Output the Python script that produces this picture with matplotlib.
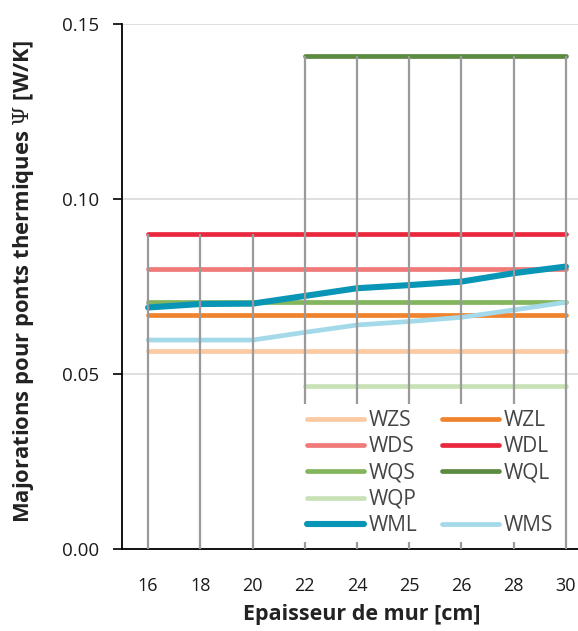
import numpy as np
import matplotlib
matplotlib.use("Agg")
import matplotlib.pyplot as plt
from matplotlib.lines import Line2D

plt.rcParams['font.family'] = ['Open Sans', 'DejaVu Sans']
plt.rcParams['mathtext.fontset'] = 'dejavuserif'

categories = ["16", "18", "20", "22", "24", "25", "26", "28", "30"]
nan = np.nan
WZS = [0.0565, 0.0565, 0.0565, 0.0565, 0.0565, 0.0565, 0.0565, 0.0565, 0.0565]
WZL = [0.067, 0.067, 0.067, 0.067, 0.067, 0.067, 0.067, 0.067, 0.067]
WDS = [0.080, 0.080, 0.080, 0.080, 0.080, 0.080, 0.080, 0.080, 0.080]
WDL = [0.090, 0.090, 0.090, 0.090, 0.090, 0.090, 0.090, 0.090, 0.090]
WQS = [0.0707, 0.0707, 0.0707, 0.0707, 0.0707, 0.0707, 0.0707, 0.0707, 0.0707]
WQL = [nan, nan, nan, 0.141, 0.141, 0.141, 0.141, 0.141, 0.141]
WQP = [nan, nan, nan, 0.0467, 0.0467, 0.0467, 0.0467, 0.0467, 0.0467]
WML = [0.0690, 0.0700, 0.0701, 0.0723, 0.0745, 0.0754, 0.0764, 0.0788, 0.0807]
WMS = [0.0597, 0.0597, 0.0597, 0.0619, 0.0640, 0.0650, 0.0662, 0.0683, 0.0705]

series_names = ["WZS", "WZL", "WDS", "WDL", "WQS", "WQL", "WQP", "WML", "WMS"]
series_vals = [WZS, WZL, WDS, WDL, WQS, WQL, WQP, WML, WMS]
colors = {"WZS": "#FBC9A2", "WZL": "#F0832C", "WDS": "#F07A78", "WDL": "#E9283F",
          "WQS": "#83B55C", "WQL": "#5B8A40", "WQP": "#C9E1B6",
          "WML": "#0895B6", "WMS": "#A3D9E9"}
widths = {n: 3.4 for n in series_names}
widths["WML"] = 4.4

fig = plt.figure(figsize=(5.78, 6.31), dpi=100)
ax = fig.add_axes([122/578, 82/631, 470/578, 525/631])
x = np.arange(len(categories))

handles = {}
for name, vals in zip(series_names, series_vals):
    h, = ax.plot(x, vals, color=colors[name], lw=widths[name],
                 solid_capstyle='round', zorder=3, label=name)
    handles[name] = h

# drop lines
arr = np.array(series_vals, dtype=float)
tops = np.nanmax(arr, axis=0)
ax.vlines(x, 0, tops, colors="#9A9A9A", lw=1.6, zorder=4)

ax.set_xlim(-0.5, 8.5)
ax.set_ylim(0, 0.15)
ax.set_yticks([0.0, 0.05, 0.10, 0.15])
ax.set_yticklabels(["0.00", "0.05", "0.10", "0.15"])
ax.set_xticks(x)
ax.set_xticklabels(categories)
ax.yaxis.grid(True, color="#D9D9D9", lw=1.2, zorder=0)
ax.set_axisbelow(True)
for s in ["top", "right"]:
    ax.spines[s].set_visible(False)
ax.spines["left"].set_color("black")
ax.spines["bottom"].set_color("black")
ax.spines["left"].set_linewidth(1.3)
ax.spines["bottom"].set_linewidth(1.3)
ax.tick_params(axis='y', length=6.5, width=1.2, labelsize=13.5, pad=10, colors='black')
ax.tick_params(axis='x', length=0, labelsize=13, pad=20)
for t in ax.get_yticklabels() + ax.get_xticklabels():
    t.set_color('#1A1A1A')

ax.set_xlabel("Epaisseur de mur [cm]", fontsize=15.5, fontweight='bold', color='#222222')
ax.set_ylabel(r"Majorations pour ponts thermiques $\Psi$ [W/K]", fontsize=15.8,
              fontweight='bold', color='#222222')
ax.xaxis.set_label_coords(0.51, -0.104)
ax.yaxis.set_label_coords(-0.182, 0.51)

blank = Line2D([], [], color='none')
order = [handles["WZS"], handles["WDS"], handles["WQS"], handles["WQP"], handles["WML"],
         handles["WZL"], handles["WDL"], handles["WQL"], blank, handles["WMS"]]
labels = ["WZS", "WDS", "WQS", "WQP", "WML", "WZL", "WDL", "WQL", "", "WMS"]
leg = fig.legend(order, labels, ncol=2, loc='upper left',
                 bbox_to_anchor=(301/578, 1 - 404/631), bbox_transform=fig.transFigure,
                 borderaxespad=0,
                 frameon=True, fancybox=False, edgecolor='none', facecolor='white', framealpha=1,
                 fontsize=15, handlelength=2.7, handletextpad=0.25, columnspacing=1.2,
                 labelspacing=0.25, borderpad=0.3)
for t in leg.get_texts():
    t.set_color('#444444')
leg.set_zorder(10)

fig.savefig("out.png", dpi=100)
